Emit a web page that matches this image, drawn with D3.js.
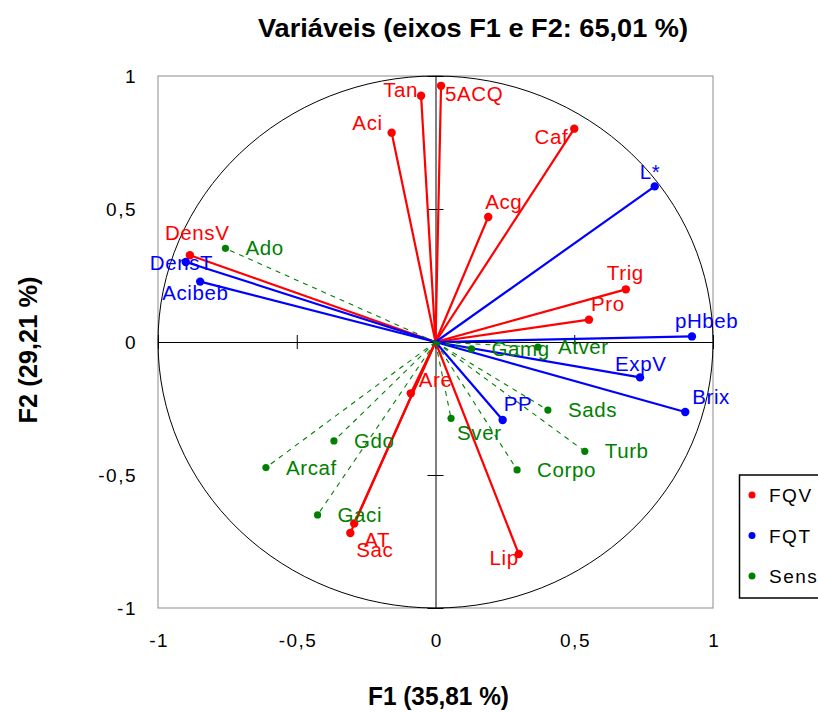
<!DOCTYPE html>
<html><head><meta charset="utf-8">
<script src="https://cdn.jsdelivr.net/npm/d3@7"></script>
<style>
html,body{margin:0;padding:0;background:#fff;}
svg{display:block;font-family:"Liberation Sans",Arial,sans-serif;}
</style></head>
<body>
<svg id="chart" width="818" height="712"></svg>
<script>
// ---- data ----
const fqvNames = ["Tan","5ACQ","Aci","Caf","Acg","Trig","Pro","DensV","Are","AT","Sac","Lip"];
const fqvF1 = [-0.052, 0.020, -0.158, 0.500, 0.190, 0.686, 0.553, -0.885, -0.089, -0.293, -0.307, 0.300];
const fqvF2 = [0.926, 0.963, 0.787, 0.802, 0.470, 0.198, 0.084, 0.326, -0.193, -0.682, -0.718, -0.797];

const fqtNames = ["L*","pHbeb","DensT","Acibeb","ExpV","Brix","PP"];
const fqtF1 = [0.790, 0.924, -0.900, -0.848, 0.737, 0.900, 0.242];
const fqtF2 = [0.585, 0.021, 0.301, 0.227, -0.133, -0.263, -0.293];

const sensNames = ["Ado","Gdo","Arcaf","Gaci","Sver","Sads","Turb","Corpo","Gamg","Atver"];
const sensF1 = [-0.757, -0.366, -0.611, -0.425, 0.056, 0.405, 0.538, 0.294, 0.130, 0.369];
const sensF2 = [0.352, -0.372, -0.472, -0.650, -0.287, -0.256, -0.411, -0.481, -0.026, -0.019];

const seriesNames = ["FQV","FQT","Sens"];
const tickValues = [-1, -0.5, 0, 0.5, 1];
const tickLabels = ["-1","-0,5","0","0,5","1"];

// ---- layout / styles ----
const colors = {FQV:"#ff0000", FQT:"#0000ff", Sens:"#008000"};
// label offsets [dx, dy, anchor]
const labelPos = {
  "Tan":[-3,1,"end"], "5ACQ":[4,15,"start"], "Aci":[-9,-3,"end"], "Caf":[-6,15,"end"],
  "Acg":[-3,-8,"start"], "Trig":[-19,-9,"start"], "Pro":[2,-9,"start"], "DensV":[-25,-15,"start"],
  "Are":[8,-6,"start"], "AT":[10,24,"start"], "Sac":[6,24,"start"], "Lip":[0,11,"end"],
  "L*":[-15,-7,"start"], "pHbeb":[-17,-8,"start"], "DensT":[-36,8,"start"], "Acibeb":[-38,18,"start"],
  "ExpV":[-25,-6,"start"], "Brix":[7,-8,"start"], "PP":[1,-9,"start"], "Sver":[6,22,"start"]
};
const defaultLabel = [20,7,"start"];
const FONT = "Liberation Sans, Arial, sans-serif";

const svg = d3.select("#chart");
const x = d3.scaleLinear().domain([-1,1]).range([158,713]);
const y = d3.scaleLinear().domain([-1,1]).range([608,76]);

// frame
svg.append("rect").attr("x",x(-1)).attr("y",y(1)).attr("width",x(1)-x(-1)).attr("height",y(-1)-y(1))
  .attr("fill","none").attr("stroke","#8c8c8c").attr("stroke-width",1);

// correlation circle
svg.append("ellipse").attr("cx",x(0)).attr("cy",y(0)).attr("rx",x(1)-x(0)).attr("ry",y(0)-y(1))
  .attr("fill","none").attr("stroke","#000").attr("stroke-width",1);

// axes through origin
svg.append("g").attr("transform",`translate(0,${y(0)})`)
  .call(d3.axisBottom(x).tickValues(tickValues).tickFormat("").tickSizeInner(7).tickSizeOuter(0));
svg.append("g").attr("transform",`translate(0,${y(0)})`)
  .call(d3.axisTop(x).tickValues(tickValues).tickFormat("").tickSizeInner(7).tickSizeOuter(0))
  .select(".domain").remove();
svg.append("g").attr("transform",`translate(${x(0)},0)`)
  .call(d3.axisLeft(y).tickValues(tickValues).tickFormat("").tickSizeInner(8).tickSizeOuter(0));
svg.append("g").attr("transform",`translate(${x(0)},0)`)
  .call(d3.axisRight(y).tickValues(tickValues).tickFormat("").tickSizeInner(8).tickSizeOuter(0))
  .select(".domain").remove();
svg.selectAll(".domain, .tick line").attr("stroke","#000").attr("stroke-width",1);

// tick labels outside
const lx = svg.append("g").attr("transform",`translate(0,${y(-1)})`)
  .call(d3.axisBottom(x).tickValues(tickValues).tickFormat((d,i)=>tickLabels[i]).tickSize(0).tickPadding(26));
lx.select(".domain").remove();
lx.selectAll("text").attr("font-size",19).attr("font-family",FONT).attr("fill","#000")
  .attr("letter-spacing","1.5px").attr("dx","0.75px");
const ly = svg.append("g").attr("transform",`translate(${x(-1)},0)`)
  .call(d3.axisLeft(y).tickValues(tickValues).tickFormat((d,i)=>tickLabels[i]).tickSize(0).tickPadding(21));
ly.select(".domain").remove();
ly.selectAll("text").attr("font-size",19).attr("font-family",FONT).attr("fill","#000")
  .attr("letter-spacing","1.5px");

// series
function build(names,f1,f2,series){ return names.map((n,i)=>({name:n,f1:f1[i],f2:f2[i],series})); }
const all = [
  build(fqvNames,fqvF1,fqvF2,"FQV"),
  build(fqtNames,fqtF1,fqtF2,"FQT"),
  build(sensNames,sensF1,sensF2,"Sens")
];
all.forEach(data=>{
  svg.append("g").selectAll("line").data(data).join("line")
    .attr("x1",x(0)).attr("y1",y(0)).attr("x2",d=>x(d.f1)).attr("y2",d=>y(d.f2))
    .attr("stroke",d=>colors[d.series])
    .attr("stroke-width",d=>d.series==="Sens"?1.1:2.2)
    .attr("stroke-dasharray",d=>d.series==="Sens"?"5,5":null);
});
all.forEach(data=>{
  const g = svg.append("g");
  g.selectAll("circle").data(data).join("circle")
    .attr("cx",d=>x(d.f1)).attr("cy",d=>y(d.f2))
    .attr("r",d=>d.series==="Sens"?3.6:4.2)
    .attr("fill",d=>colors[d.series]);
  g.selectAll("text").data(data).join("text")
    .attr("x",d=>x(d.f1)+(labelPos[d.name]||defaultLabel)[0])
    .attr("y",d=>y(d.f2)+(labelPos[d.name]||defaultLabel)[1])
    .attr("text-anchor",d=>(labelPos[d.name]||defaultLabel)[2])
    .attr("font-size",20.5).attr("letter-spacing","0.6px").attr("fill",d=>colors[d.series])
    .text(d=>d.name);
});

// title
svg.append("text").attr("x",473).attr("y",37).attr("text-anchor","middle")
  .attr("font-size",26).attr("font-weight","bold").attr("textLength",430).attr("lengthAdjust","spacingAndGlyphs")
  .text("Variáveis (eixos F1 e F2: 65,01 %)");
svg.append("text").attr("x",x(0)+3).attr("y",705).attr("text-anchor","middle")
  .attr("font-size",26).attr("font-weight","bold").attr("textLength",141).attr("lengthAdjust","spacingAndGlyphs")
  .text("F1 (35,81 %)");
svg.append("text").attr("transform",`translate(37,350) rotate(-90)`).attr("text-anchor","middle")
  .attr("font-size",26).attr("font-weight","bold").attr("textLength",147).attr("lengthAdjust","spacingAndGlyphs")
  .text("F2 (29,21 %)");

// legend
const leg = svg.append("g");
leg.append("rect").attr("x",739.5).attr("y",475).attr("width",120).attr("height",123)
  .attr("fill","#fff").attr("stroke","#000").attr("stroke-width",1.5);
const li = leg.selectAll("g.item").data(seriesNames).join("g").attr("class","item")
  .attr("transform",(d,i)=>`translate(0,${495+i*40.5})`);
li.append("circle").attr("cx",752).attr("cy",0).attr("r",3.5).attr("fill",d=>colors[d]);
li.append("text").attr("x",769).attr("y",7).attr("font-size",19).attr("letter-spacing","1.5px")
  .attr("fill","#000").text(d=>d);
</script>
</body></html>
